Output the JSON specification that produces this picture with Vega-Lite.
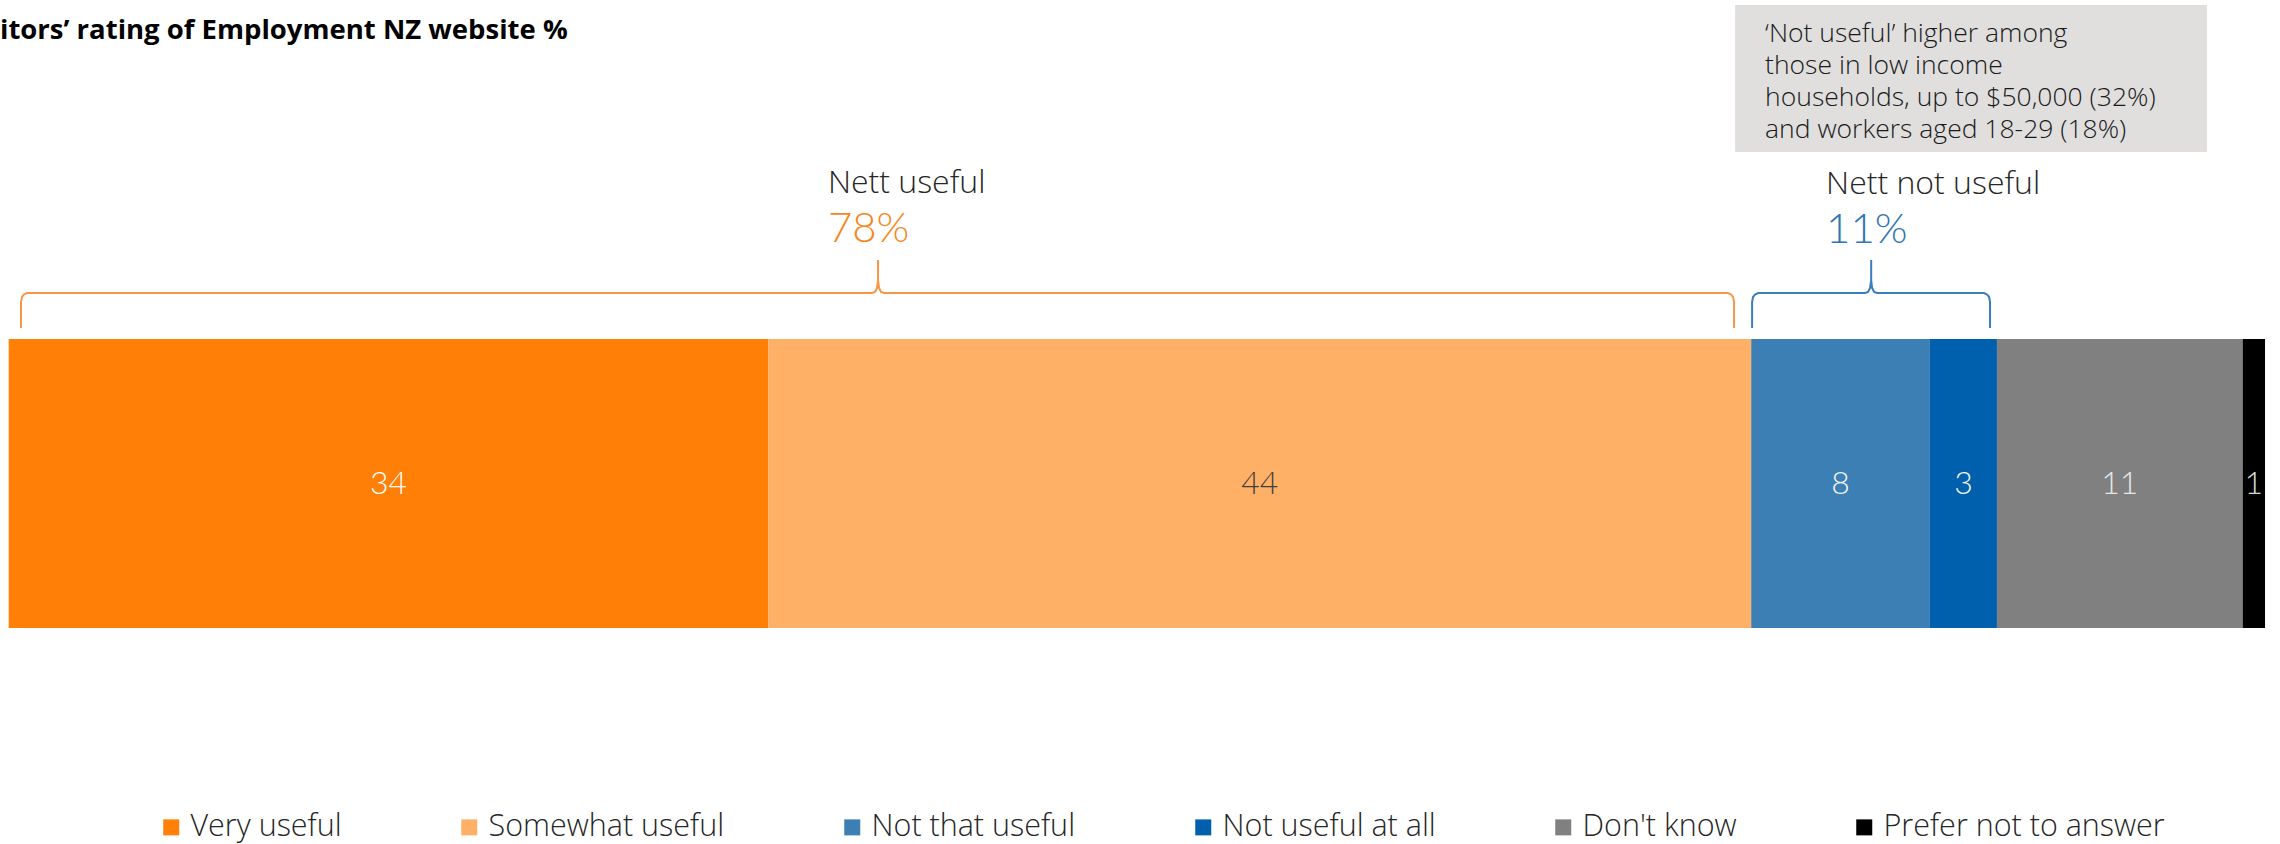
{
  "$schema": "https://vega.github.io/schema/vega-lite/v6.json",
  "width": 2280,
  "height": 844,
  "padding": 0,
  "autosize": {"type": "none"},
  "background": "white",
  "config": {"view": {"stroke": null}, "font": "Open Sans"},
  "datasets": {
    "segments": [
      {"category": "Very useful", "value": 34, "order": 1},
      {"category": "Somewhat useful", "value": 44, "order": 2},
      {"category": "Not that useful", "value": 8, "order": 3},
      {"category": "Not useful at all", "value": 3, "order": 4},
      {"category": "Don't know", "value": 11, "order": 5},
      {"category": "Prefer not to answer", "value": 1, "order": 6}
    ],
    "bracketUseful": [
      {"bx": 0.551, "by": 38.86, "seq": 1},
      {"bx": 0.551, "by": 35.78, "seq": 2},
      {"bx": 0.596, "by": 35.19, "seq": 3},
      {"bx": 0.685, "by": 34.89, "seq": 4},
      {"bx": 0.82, "by": 34.72, "seq": 5},
      {"bx": 38.645, "by": 34.72, "seq": 6},
      {"bx": 38.779, "by": 34.6, "seq": 7},
      {"bx": 38.869, "by": 34.12, "seq": 8},
      {"bx": 38.914, "by": 33.18, "seq": 9},
      {"bx": 38.914, "by": 30.81, "seq": 10},
      {"bx": 38.914, "by": 33.18, "seq": 11},
      {"bx": 38.959, "by": 34.12, "seq": 12},
      {"bx": 39.049, "by": 34.6, "seq": 13},
      {"bx": 39.183, "by": 34.72, "seq": 14},
      {"bx": 76.963, "by": 34.72, "seq": 15},
      {"bx": 77.097, "by": 34.89, "seq": 16},
      {"bx": 77.187, "by": 35.19, "seq": 17},
      {"bx": 77.232, "by": 35.78, "seq": 18},
      {"bx": 77.232, "by": 38.86, "seq": 19}
    ],
    "bracketNotUseful": [
      {"bx": 78.04, "by": 38.86, "seq": 1},
      {"bx": 78.04, "by": 35.78, "seq": 2},
      {"bx": 78.08, "by": 35.19, "seq": 3},
      {"bx": 78.17, "by": 34.89, "seq": 4},
      {"bx": 78.31, "by": 34.72, "seq": 5},
      {"bx": 83.1, "by": 34.72, "seq": 6},
      {"bx": 83.23, "by": 34.6, "seq": 7},
      {"bx": 83.32, "by": 34.12, "seq": 8},
      {"bx": 83.37, "by": 33.18, "seq": 9},
      {"bx": 83.37, "by": 30.81, "seq": 10},
      {"bx": 83.37, "by": 33.18, "seq": 11},
      {"bx": 83.41, "by": 34.12, "seq": 12},
      {"bx": 83.5, "by": 34.6, "seq": 13},
      {"bx": 83.63, "by": 34.72, "seq": 14},
      {"bx": 88.42, "by": 34.72, "seq": 15},
      {"bx": 88.56, "by": 34.89, "seq": 16},
      {"bx": 88.65, "by": 35.19, "seq": 17},
      {"bx": 88.69, "by": 35.78, "seq": 18},
      {"bx": 88.69, "by": 38.86, "seq": 19}
    ]
  },
  "resolve": {"scale": {"color": "independent"}},
  "layer": [
    {
      "data": {"name": "segments"},
      "transform": [
        {"stack": "value", "groupby": [], "sort": [{"field": "order"}], "as": ["start", "end"]}
      ],
      "mark": {"type": "bar"},
      "encoding": {
        "x": {"field": "start", "type": "quantitative", "scale": {"domain": [-0.389, 101.67], "nice": false, "zero": false}, "axis": null},
        "x2": {"field": "end"},
        "y": {"datum": 40.17, "type": "quantitative", "scale": {"domain": [0, 100], "reverse": true, "nice": false, "zero": false}, "axis": null},
        "y2": {"datum": 74.41},
        "color": {
          "field": "category",
          "type": "nominal",
          "scale": {
            "domain": ["Very useful", "Somewhat useful", "Not that useful", "Not useful at all", "Don't know", "Prefer not to answer"],
            "range": ["#FF7F07", "#FFB067", "#3C7FB5", "#0060AD", "#808080", "#000000"]
          },
          "legend": {
            "orient": "none",
            "legendX": 156,
            "legendY": 812,
            "direction": "horizontal",
            "title": null,
            "symbolType": "square",
            "symbolSize": 256,
            "symbolStrokeWidth": 0,
            "symbolOpacity": 1,
            "labelFont": "Open Sans",
            "labelFontSize": 30.5,
            "labelFontWeight": 300,
            "labelColor": "#262626",
            "labelOffset": 4,
            "labelLimit": 500,
            "columnPadding": 112
          }
        }
      }
    },
    {
      "data": {"name": "segments"},
      "transform": [
        {"stack": "value", "groupby": [], "sort": [{"field": "order"}], "as": ["start", "end"]},
        {"calculate": "(datum.start + datum.end) / 2", "as": "mid"}
      ],
      "mark": {"type": "text", "fontSize": 32, "fontWeight": 300, "font": "Lato", "baseline": "middle", "align": "center"},
      "encoding": {
        "x": {"field": "mid", "type": "quantitative"},
        "y": {"datum": 57.29, "type": "quantitative"},
        "text": {"field": "value", "type": "quantitative"},
        "color": {
          "field": "category",
          "type": "nominal",
          "scale": {
            "domain": ["Very useful", "Somewhat useful", "Not that useful", "Not useful at all", "Don't know", "Prefer not to answer"],
            "range": ["#FFFFFF", "#404040", "#F2F2F2", "#F2F2F2", "#E6E6E6", "#D9D9D9"]
          },
          "legend": null
        }
      }
    },
    {
      "data": {"name": "bracketUseful"},
      "mark": {"type": "line", "color": "#F79646", "strokeWidth": 2},
      "encoding": {
        "x": {"field": "bx", "type": "quantitative"},
        "y": {"field": "by", "type": "quantitative"},
        "order": {"field": "seq", "type": "quantitative"}
      }
    },
    {
      "data": {"name": "bracketNotUseful"},
      "mark": {"type": "line", "color": "#3A7DC0", "strokeWidth": 2},
      "encoding": {
        "x": {"field": "bx", "type": "quantitative"},
        "y": {"field": "by", "type": "quantitative"},
        "order": {"field": "seq", "type": "quantitative"}
      }
    },
    {
      "data": {"values": [{}]},
      "mark": {"type": "rect", "color": "#E0DFDE"},
      "encoding": {
        "x": {"datum": 77.28, "type": "quantitative"},
        "x2": {"datum": 98.4},
        "y": {"datum": 0.59, "type": "quantitative"},
        "y2": {"datum": 18.01}
      }
    },
    {
      "data": {"values": [{}]},
      "mark": {
        "type": "text",
        "text": ["‘Not useful’ higher among", "those in low income", "households, up to $50,000 (32%)", "and workers aged 18-29 (18%)"],
        "fontSize": 26.5, "fontWeight": 300, "font": "Open Sans", "color": "#1A1A1A",
        "align": "left", "baseline": "alphabetic", "lineHeight": 32
      },
      "encoding": {
        "x": {"datum": 78.62, "type": "quantitative"},
        "y": {"datum": 4.98, "type": "quantitative"}
      }
    },
    {
      "data": {"values": [{}]},
      "mark": {"type": "text", "text": "itors’ rating of Employment NZ website %", "fontSize": 27.5, "fontWeight": "bold", "font": "Open Sans", "color": "#000000", "align": "left", "baseline": "alphabetic"},
      "encoding": {
        "x": {"datum": -0.389, "type": "quantitative"},
        "y": {"datum": 4.62, "type": "quantitative"}
      }
    },
    {
      "data": {"values": [{}]},
      "mark": {"type": "text", "text": "Nett useful", "fontSize": 32, "fontWeight": 300, "font": "Open Sans", "color": "#262626", "align": "left", "baseline": "alphabetic"},
      "encoding": {
        "x": {"datum": 36.67, "type": "quantitative"},
        "y": {"datum": 22.87, "type": "quantitative"}
      }
    },
    {
      "data": {"values": [{}]},
      "mark": {"type": "text", "text": "78%", "fontSize": 42, "fontWeight": 300, "font": "Lato", "color": "#F8861E", "align": "left", "baseline": "alphabetic"},
      "encoding": {
        "x": {"datum": 36.67, "type": "quantitative"},
        "y": {"datum": 28.67, "type": "quantitative"}
      }
    },
    {
      "data": {"values": [{}]},
      "mark": {"type": "text", "text": "Nett not useful", "fontSize": 32, "fontWeight": 300, "font": "Open Sans", "color": "#262626", "align": "left", "baseline": "alphabetic"},
      "encoding": {
        "x": {"datum": 81.35, "type": "quantitative"},
        "y": {"datum": 23.0, "type": "quantitative"}
      }
    },
    {
      "data": {"values": [{}]},
      "mark": {"type": "text", "text": "11%", "fontSize": 42, "fontWeight": 300, "font": "Lato", "color": "#2E75B6", "align": "left", "baseline": "alphabetic"},
      "encoding": {
        "x": {"datum": 81.35, "type": "quantitative"},
        "y": {"datum": 28.8, "type": "quantitative"}
      }
    }
  ]
}
